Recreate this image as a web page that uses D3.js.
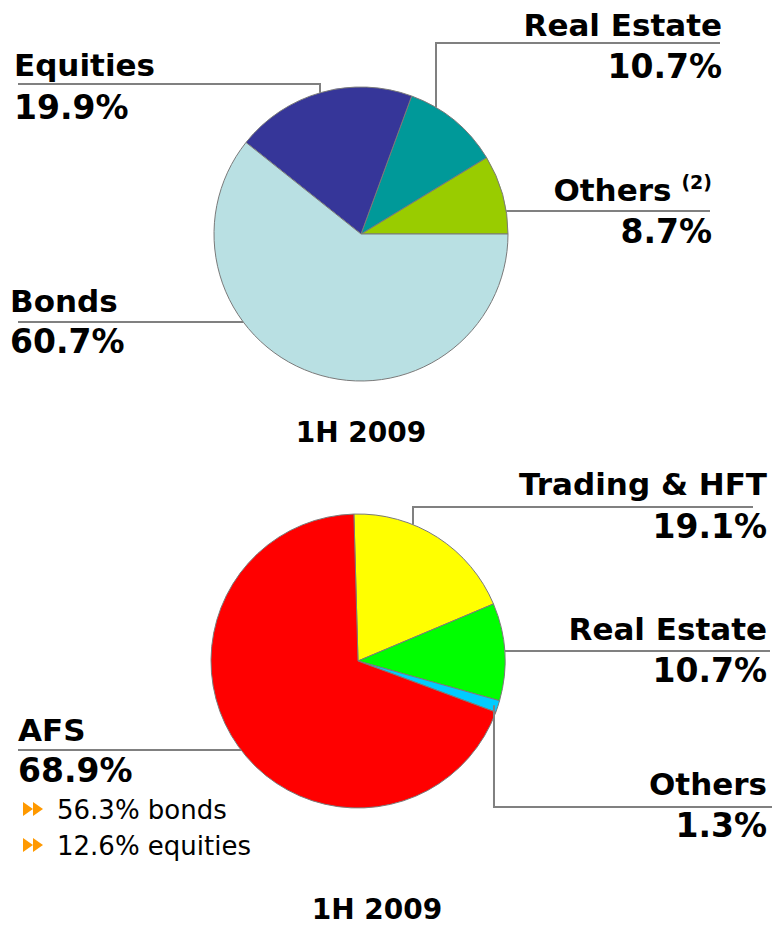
<!DOCTYPE html>
<html>
<head>
<meta charset="utf-8">
<script src="https://cdn.jsdelivr.net/npm/d3@7"></script>
<style>
  body { margin: 0; background: #fff; }
  text { font-family: "DejaVu Sans", Verdana, sans-serif; fill: #000; }
</style>
</head>
<body>
<svg id="chart" width="773" height="926"></svg>
<script>
// top pie: investment mix (counterclockwise from 3 o'clock)
const topNames = ["Others", "Real Estate", "Equities", "Bonds"];
const topValues = [8.7, 10.7, 19.9, 60.7];
const topColors = ["#99cc00", "#009999", "#363699", "#b9e0e3"];
const topTitle = "1H 2009";

// bottom pie: accounting split (clockwise from 12 o'clock)
const botNames = ["Trading & HFT", "Real Estate", "Others", "AFS"];
const botValues = [19.1, 10.7, 1.3, 68.9];
const botColors = ["#ffff00", "#00ff00", "#00ccff", "#ff0000"];
const botTitle = "1H 2009";
const afsBullets = ["56.3% bonds", "12.6% equities"];

const svg = d3.select("#chart");
const lineColor = "#808080";
const fmt = v => v.toFixed(1) + "%";

function drawPie(cfg) {
  const g = svg.append("g").attr("transform", `translate(${cfg.cx},${cfg.cy})`);
  const pie = d3.pie().sort(null).value(d => d)
    .startAngle(cfg.start).endAngle(cfg.end);
  const arcs = pie(cfg.values);
  const arc = d3.arc().innerRadius(0).outerRadius(cfg.r);

  g.selectAll("path.slice")
    .data(arcs)
    .enter().append("path")
    .attr("class", "slice")
    .attr("d", arc)
    .attr("fill", (d, i) => cfg.colors[i])
    .attr("stroke", "#7a7a7a")
    .attr("stroke-width", 1);

  // helpers to hit the rim of the pie
  const rimY = x => cfg.cy - Math.sqrt(cfg.r * cfg.r - (x - cfg.cx) ** 2);
  const rimXLeft = y => cfg.cx - Math.sqrt(cfg.r * cfg.r - (y - cfg.cy) ** 2);
  const rimXRight = y => cfg.cx + Math.sqrt(cfg.r * cfg.r - (y - cfg.cy) ** 2);
  const rimArc = d3.arc().innerRadius(cfg.r - 4).outerRadius(cfg.r - 4);

  cfg.labels.forEach((lb, i) => {
    let pts;
    if (lb.kind === "elbowDown") {
      pts = [[lb.x2, lb.lineY], [lb.x1, lb.lineY], [lb.x1, rimY(lb.x1)]];
    } else if (lb.kind === "left") {
      pts = [[lb.x1, lb.lineY], [rimXLeft(lb.lineY), lb.lineY]];
    } else if (lb.kind === "right") {
      pts = [[rimXRight(lb.lineY), lb.lineY], [lb.x2, lb.lineY]];
    } else if (lb.kind === "fromSlice") {
      const c = rimArc.centroid(arcs[i]);
      const px = cfg.cx + c[0], py = cfg.cy + c[1];
      pts = [[px, py], [px, lb.lineY], [lb.x2, lb.lineY]];
    }
    svg.append("path")
      .attr("d", d3.line()(pts))
      .attr("fill", "none")
      .attr("stroke", lineColor)
      .attr("stroke-width", 2);

    const t = svg.append("text")
      .attr("x", lb.tx).attr("y", lb.nameY)
      .attr("text-anchor", lb.anchor)
      .style("font-size", "31px").style("font-weight", "bold")
      .text(cfg.names[i]);
    if (lb.sup) {
      t.append("tspan").attr("dx", 10).attr("dy", -12)
        .style("font-size", "19px").text(lb.sup);
    }
    svg.append("text")
      .attr("x", lb.tx).attr("y", lb.pctY)
      .attr("text-anchor", lb.anchor)
      .style("font-size", "33px").style("font-weight", "bold")
      .text(fmt(cfg.values[i]));
  });

  svg.append("text")
    .attr("x", cfg.titleX).attr("y", cfg.titleY)
    .attr("text-anchor", "middle")
    .style("font-size", "28px").style("font-weight", "bold")
    .text(cfg.title);
}

drawPie({
  cx: 361, cy: 234, r: 147,
  start: Math.PI / 2, end: Math.PI / 2 - 2 * Math.PI,
  names: topNames, values: topValues, colors: topColors,
  title: topTitle, titleX: 361, titleY: 442,
  labels: [
    { kind: "right", lineY: 211, x2: 710, tx: 712, anchor: "end", nameY: 201, pctY: 243, sup: "(2)" },
    { kind: "elbowDown", lineY: 43, x1: 436, x2: 720, tx: 722, anchor: "end", nameY: 36, pctY: 78 },
    { kind: "elbowDown", lineY: 84, x1: 320, x2: 18, tx: 14, anchor: "start", nameY: 76, pctY: 119 },
    { kind: "left", lineY: 322, x1: 18, tx: 10, anchor: "start", nameY: 312, pctY: 353 }
  ]
});

drawPie({
  cx: 358, cy: 661, r: 147,
  start: -1.6 * Math.PI / 180, end: 2 * Math.PI - 1.6 * Math.PI / 180,
  names: botNames, values: botValues, colors: botColors,
  title: botTitle, titleX: 377, titleY: 919,
  labels: [
    { kind: "elbowDown", lineY: 507, x1: 413, x2: 753, tx: 767, anchor: "end", nameY: 495, pctY: 538 },
    { kind: "right", lineY: 651, x2: 770, tx: 767, anchor: "end", nameY: 640, pctY: 682 },
    { kind: "fromSlice", lineY: 807, x2: 772, tx: 767, anchor: "end", nameY: 795, pctY: 837 },
    { kind: "left", lineY: 750, x1: 18, tx: 18, anchor: "start", nameY: 741, pctY: 782 }
  ]
});

// AFS breakdown with orange double-arrow bullets
const bulletG = svg.append("g");
afsBullets.forEach((txt, i) => {
  const by = 819 + i * 36;
  [23, 33].forEach(bx => {
    const p = d3.path();
    p.moveTo(bx, by - 17);
    p.lineTo(bx + 10, by - 10);
    p.lineTo(bx, by - 3);
    p.closePath();
    bulletG.append("path").attr("d", p.toString()).attr("fill", "#ff9900");
  });
  bulletG.append("text")
    .attr("x", 57).attr("y", by)
    .style("font-size", "26px")
    .text(txt);
});
</script>
</body>
</html>
